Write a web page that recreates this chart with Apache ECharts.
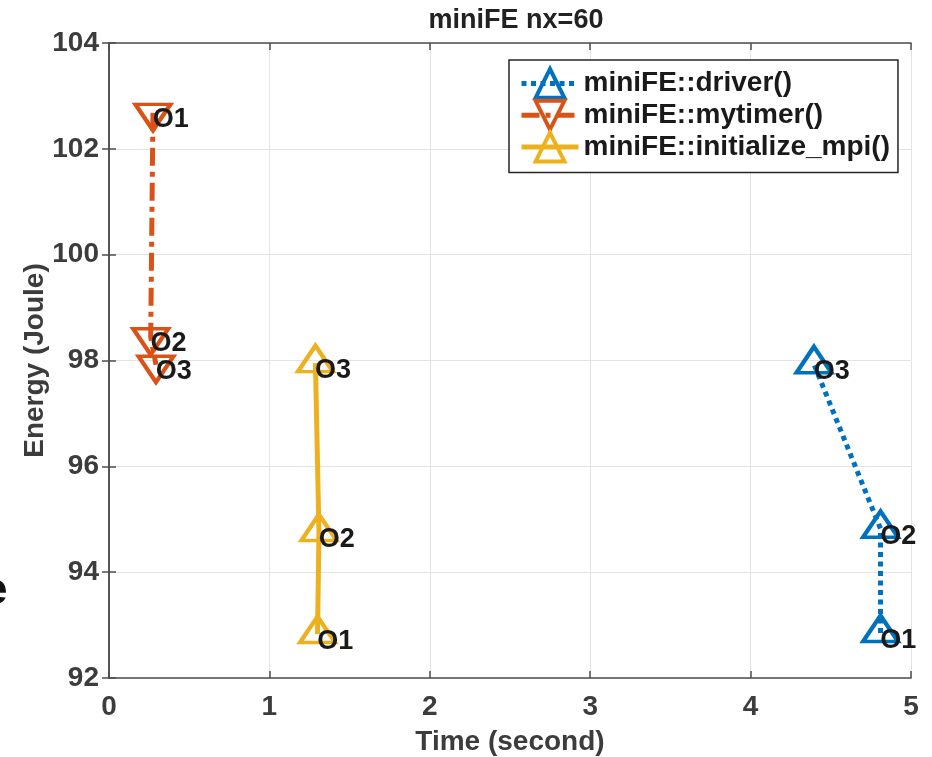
<!DOCTYPE html>
<html>
<head>
<meta charset="utf-8">
<script src="https://cdn.jsdelivr.net/npm/echarts@6/dist/echarts.min.js"></script>
<style>
html,body{margin:0;padding:0;background:#fff;}
#c{width:932px;height:757px;}
</style>
</head>
<body>
<div id="c"></div>
<script>
// ---- data ----
var pointLabels = ['O1', 'O2', 'O3'];
var driverX = [4.81, 4.81, 4.395];
var driverY = [92.85, 94.82, 97.93];
var mytimerX = [0.274, 0.26, 0.293];
var mytimerY = [102.68, 98.44, 97.92];
var initMpiX = [1.30, 1.309, 1.287];
var initMpiY = [92.83, 94.76, 97.95];
var seriesNames = ['miniFE::driver()', 'miniFE::mytimer()', 'miniFE::initialize_mpi()'];
var xTicks = [0, 1, 2, 3, 4, 5];
var yTicks = [92, 94, 96, 98, 100, 102, 104];

var FONT = '"Liberation Sans", Arial, Helvetica, sans-serif';
var AXC = '#4d4d4d';
var TXT = '#3c3c3c';

function pts(xs, ys) {
  return xs.map(function (x, i) { return { value: [x, ys[i]], name: pointLabels[i] }; });
}

function mkLabel(dy) {
  return {
    show: true,
    position: [17.5, 13],
    align: 'left',
    verticalAlign: 'middle',
    offset: [2, dy],
    formatter: function (p) { return p.name; },
    color: '#1a1a1a',
    fontFamily: FONT,
    fontWeight: 'bold',
    fontSize: 27
  };
}

function mkSeries(name, xs, ys, color, dash, rotate) {
  var down = rotate === 180;
  return {
    name: name,
    type: 'line',
    data: pts(xs, ys),
    symbol: 'triangle',
    symbolSize: [35, 26],
    symbolRotate: rotate,
    symbolOffset: [0, down ? 4.5 : -4.5],
    showAllSymbol: true,
    lineStyle: { color: color, width: 5, type: dash },
    itemStyle: { color: 'rgba(255,255,255,0)', borderColor: color, borderWidth: 4 },
    label: mkLabel(down ? 4 : 14),
    emphasis: { disabled: true },
    animation: false,
    z: 3
  };
}

var chart = echarts.init(document.getElementById('c'), null, { renderer: 'canvas' });

var axisLine = { show: true, lineStyle: { color: AXC, width: 1.5 } };
var axisTick = { show: true, inside: true, length: 7, lineStyle: { color: AXC, width: 1.5 } };
var tickFont = { fontFamily: FONT, fontWeight: 'bold', fontSize: 28, color: TXT };

chart.setOption({
  backgroundColor: '#fff',
  animation: false,
  title: {
    text: 'miniFE nx=60',
    left: 511, top: 2,
    textAlign: 'center',
    textStyle: { fontFamily: FONT, fontWeight: 'bold', fontSize: 27, color: '#222' }
  },
  grid: { left: 109, right: 21, top: 43, bottom: 79, containLabel: false, outerBoundsMode: 'none' },
  legend: {
    data: seriesNames,
    orient: 'vertical',
    left: 509, top: 60,
    itemWidth: 57, itemHeight: 36,
    itemGap: -1,
    padding: [7, 8, 9, 10],
    borderColor: '#262626', borderWidth: 1.5,
    backgroundColor: '#fff',
    lineStyle: { width: 5 },
    itemStyle: { borderWidth: 4 },
    textStyle: { fontFamily: FONT, fontWeight: 'bold', fontSize: 28, color: '#1a1a1a' },
    selectedMode: false
  },
  xAxis: [
    {
      type: 'value', min: 0, max: 5, interval: 1, position: 'bottom',
      name: 'Time (second)', nameLocation: 'middle', nameGap: 50,
      nameTextStyle: tickFont,
      axisLabel: Object.assign({ margin: 15, formatter: function (v) { return xTicks.indexOf(v) >= 0 ? String(v) : ''; } }, tickFont),
      axisLine: axisLine, axisTick: axisTick,
      splitLine: { show: true, lineStyle: { color: '#e3e3e3', width: 1 } }
    },
    {
      type: 'value', min: 0, max: 5, interval: 1, position: 'top',
      axisLabel: { show: false }, splitLine: { show: false },
      axisLine: axisLine, axisTick: axisTick
    }
  ],
  yAxis: [
    {
      type: 'value', min: 92, max: 104, interval: 2, position: 'left',
      name: 'Energy (Joule)', nameLocation: 'middle', nameGap: 60, nameRotate: 90,
      nameMoveOverlap: false,
      nameTextStyle: tickFont,
      axisLabel: Object.assign({ margin: 10, formatter: function (v) { return yTicks.indexOf(v) >= 0 ? String(v) : ''; } }, tickFont),
      axisLine: axisLine, axisTick: axisTick,
      splitLine: { show: true, lineStyle: { color: '#e3e3e3', width: 1 } }
    },
    {
      type: 'value', min: 92, max: 104, interval: 2, position: 'right',
      axisLabel: { show: false }, splitLine: { show: false },
      axisLine: axisLine, axisTick: axisTick
    }
  ],
  graphic: [
    { type: 'text', left: -17, top: 570, style: { text: 'e', font: 'bold 44px ' + FONT, fill: '#111' } }
  ],
  series: [
    mkSeries(seriesNames[0], driverX, driverY, '#0072BD', [5, 4.5], 0),
    mkSeries(seriesNames[1], mytimerX, mytimerY, '#D95319', [18, 6, 5, 6], 180),
    mkSeries(seriesNames[2], initMpiX, initMpiY, '#EDB120', 'solid', 0)
  ]
});
</script>
</body>
</html>
